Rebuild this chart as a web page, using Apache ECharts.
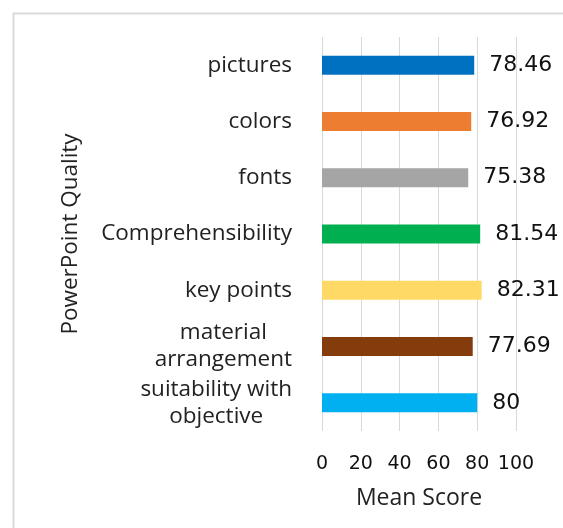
<!DOCTYPE html>
<html>
<head>
<meta charset="utf-8">
<script src="https://cdn.jsdelivr.net/npm/echarts@6/dist/echarts.min.js"></script>
<style>
  html, body { margin: 0; padding: 0; background: #fff; }
  #chart { width: 563px; height: 528px; }
</style>
</head>
<body>
<div id="chart"></div>
<script>
// Quality aspects, top to bottom
const categories = [
  'pictures',
  'colors',
  'fonts',
  'Comprehensibility',
  'key points',
  'material arrangement',
  'suitability with objective'
];
// Mean score of each aspect
const meanScores = [78.46, 76.92, 75.38, 81.54, 82.31, 77.69, 80];
// Axis ticks
const tickValues = [0, 20, 40, 60, 80, 100];

const barColors = ['#0070C0', '#ED7D31', '#A5A5A5', '#00B050', '#FFD966', '#843C0C', '#00B0F0'];

// Greedy wrap of long category names into short lines
function wrap(name, maxChars) {
  const words = name.split(' ');
  const lines = [];
  let cur = '';
  words.forEach(w => {
    if (cur && (cur + ' ' + w).length > maxChars) { lines.push(cur); cur = w; }
    else { cur = cur ? cur + ' ' + w : w; }
  });
  if (cur) lines.push(cur);
  return lines;
}

const chart = echarts.init(document.getElementById('chart'));
chart.setOption({
  animation: false,
  backgroundColor: '#fff',
  graphic: [{
    type: 'rect',
    shape: { x: 13.5, y: 13.5, width: 700, height: 700 },
    style: { fill: 'none', stroke: '#d9d9d9', lineWidth: 2 },
    silent: true
  }],
  grid: { left: 322, right: 47, top: 37, bottom: 97 },
  xAxis: {
    type: 'value',
    min: tickValues[0],
    max: tickValues[tickValues.length - 1],
    interval: tickValues[1] - tickValues[0],
    name: 'Mean Score',
    nameLocation: 'middle',
    nameGap: 56,
    nameTextStyle: { fontFamily: 'Open Sans', fontSize: 23, color: '#222' },
    axisLine: { show: false },
    axisTick: { show: false },
    axisLabel: { fontFamily: 'DejaVu Sans', fontSize: 19, color: '#111', margin: 24 },
    splitLine: { lineStyle: { color: '#d9d9d9', width: 1 } }
  },
  yAxis: {
    type: 'category',
    inverse: true,
    data: categories,
    name: 'PowerPoint Quality',
    nameLocation: 'middle',
    nameGap: 240,
    nameRotate: 90,
    nameTextStyle: { fontFamily: 'Open Sans', fontSize: 22.5, color: '#222' },
    axisLine: { show: false },
    axisTick: { show: false },
    axisLabel: {
      margin: 30,
      formatter: v => wrap(v, 16).map(l => '{c|' + l + '}').join('\n'),
      rich: {
        c: { align: 'center', fontFamily: 'Open Sans', fontSize: 22.5, color: '#222', lineHeight: 27 }
      }
    }
  },
  series: [{
    type: 'bar',
    barWidth: 19,
    data: meanScores.map((v, i) => ({ value: v, itemStyle: { color: barColors[i] } })),
    label: {
      show: true,
      position: 'right',
      distance: 15,
      fontFamily: 'DejaVu Sans',
      fontSize: 22,
      color: '#111',
      formatter: p => String(p.value)
    }
  }]
});
</script>
</body>
</html>
